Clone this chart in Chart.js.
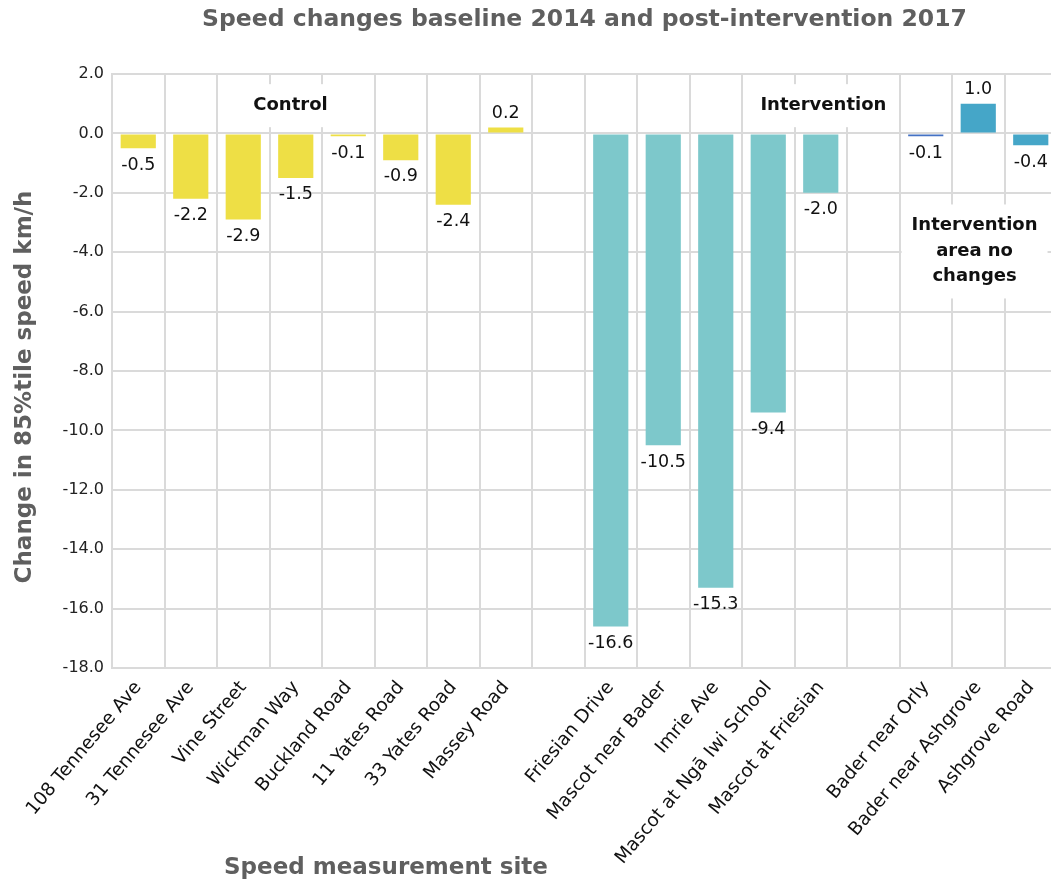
<!DOCTYPE html>
<html>
<head>
<meta charset="utf-8">
<script src="https://cdn.jsdelivr.net/npm/chart.js@4.4.0/dist/chart.umd.min.js"></script>
<style>
  html, body { margin: 0; padding: 0; background: #fff; overflow: hidden; }
  #wrap { width: 1051px; height: 884px; position: relative; overflow: hidden; }
</style>
</head>
<body>
<div id="wrap"><canvas id="speedChart" width="1057" height="884"></canvas></div>
<script>
// Data
const sites = ['108 Tennesee Ave', '31 Tennesee Ave', 'Vine Street', 'Wickman Way', 'Buckland Road',
  '11 Yates Road', '33 Yates Road', 'Massey Road', '',
  'Friesian Drive', 'Mascot near Bader', 'Imrie Ave', 'Mascot at Ngā Iwi School', 'Mascot at Friesian', '',
  'Bader near Orly', 'Bader near Ashgrove', 'Ashgrove Road'];
const speedChange = [-0.5, -2.2, -2.9, -1.5, -0.1, -0.9, -2.4, 0.2, null,
  -16.6, -10.5, -15.3, -9.4, -2.0, null,
  -0.1, 1.0, -0.4];
const barColors = ['#EEDF45', '#EEDF45', '#EEDF45', '#EEDF45', '#EEDF45', '#EEDF45', '#EEDF45', '#EEDF45', '#fff',
  '#7DC8CB', '#7DC8CB', '#7DC8CB', '#7DC8CB', '#7DC8CB', '#fff',
  '#4472C4', '#45A6C8', '#45A6C8'];
const yTicks = [2, 0, -2, -4, -6, -8, -10, -12, -14, -16, -18];

// group notes: text lines, category index, y value of first line
const noteText = [['Control'], ['Intervention'], ['Intervention', 'area no', 'changes']];
const noteSite = [2.9, 13.05, 15.93];
const noteY = [0.95, 0.95, -3.1];

const FONT = '"DejaVu Sans", sans-serif';

// value labels on bars
const valueLabels = {
  id: 'valueLabels',
  afterDatasetsDraw(chart){
    const ctx = chart.ctx;
    const meta = chart.getDatasetMeta(0);
    ctx.save();
    ctx.font = '17.5px ' + FONT;
    ctx.fillStyle = '#111';
    ctx.textAlign = 'center';
    meta.data.forEach((bar, i) => {
      const v = speedChange[i];
      if(v === null) return;
      if(v < 0){
        ctx.textBaseline = 'top';
        ctx.fillText(v.toFixed(1), bar.x, bar.y + 8);
      } else {
        ctx.textBaseline = 'bottom';
        ctx.fillText(v.toFixed(1), bar.x, bar.y - 5);
      }
    });
    ctx.restore();
  }
};

// boxed group notes + axis titles
const groupNotes = {
  id: 'groupNotes',
  afterDraw(chart){
    const ctx = chart.ctx;
    const xs = chart.scales.x, ys = chart.scales.y;
    ctx.save();
    ctx.font = 'bold 18px ' + FONT;
    ctx.textAlign = 'center';
    ctx.textBaseline = 'middle';
    noteText.forEach((lines, n) => {
      const cx = xs.getPixelForValue(noteSite[n]);
      const cy = ys.getPixelForValue(noteY[n]);
      const lh = 25.5;
      let w = 0;
      lines.forEach(t => { w = Math.max(w, ctx.measureText(t).width); });
      ctx.fillStyle = '#fff';
      ctx.fillRect(cx - w / 2 - 10, cy - 21, w + 20, lh * (lines.length - 1) + 43);
      ctx.fillStyle = '#111';
      lines.forEach((t, k) => ctx.fillText(t, cx, cy + k * lh));
    });
    // axis titles
    ctx.font = 'bold 23px ' + FONT;
    ctx.fillStyle = '#5f5f5f';
    ctx.fillText('Speed measurement site', 386, 868);
    ctx.translate(25, 387);
    ctx.rotate(-Math.PI / 2);
    ctx.fillText('Change in 85%tile speed km/h', 0, 0);
    ctx.restore();
  }
};

const ctx = document.getElementById('speedChart').getContext('2d');
const chart = new Chart(ctx, {
  type: 'bar',
  data: {
    labels: sites,
    datasets: [{
      data: speedChange,
      backgroundColor: barColors,
      barPercentage: 0.67,
      categoryPercentage: 1.0
    }]
  },
  options: {
    responsive: false,
    animation: false,
    layout: { padding: 0 },
    plugins: {
      legend: { display: false },
      tooltip: { enabled: false },
      title: {
        display: true,
        fullSize: false,
        text: 'Speed changes baseline 2014 and post-intervention 2017',
        color: '#5f5f5f',
        font: { family: FONT, size: 23.5, weight: 'bold', lineHeight: 1.2 },
        padding: { top: 6, bottom: 39.8 }
      }
    },
    scales: {
      x: {
        afterFit(axis){ axis.height = 216; },
        grid: { color: '#dadada', lineWidth: 2, drawTicks: false },
        border: { color: '#dadada', width: 2 },
        ticks: {
          color: '#111',
          font: { family: FONT, size: 18.5 },
          maxRotation: 50, minRotation: 50,
          autoSkip: false,
          padding: 9
        }
      },
      y: {
        min: -18, max: 2,
        afterBuildTicks(axis){ axis.ticks = yTicks.map(v => ({ value: v })); },
        afterFit(axis){ axis.width = 112; },
        grid: { color: '#dadada', lineWidth: 2, drawTicks: false },
        border: { color: '#dadada', width: 2 },
        ticks: {
          color: '#222',
          font: { family: FONT, size: 16 },
          padding: 8,
          callback: v => v.toFixed(1)
        }
      }
    }
  },
  plugins: [valueLabels, groupNotes]
});
</script>
</body>
</html>
